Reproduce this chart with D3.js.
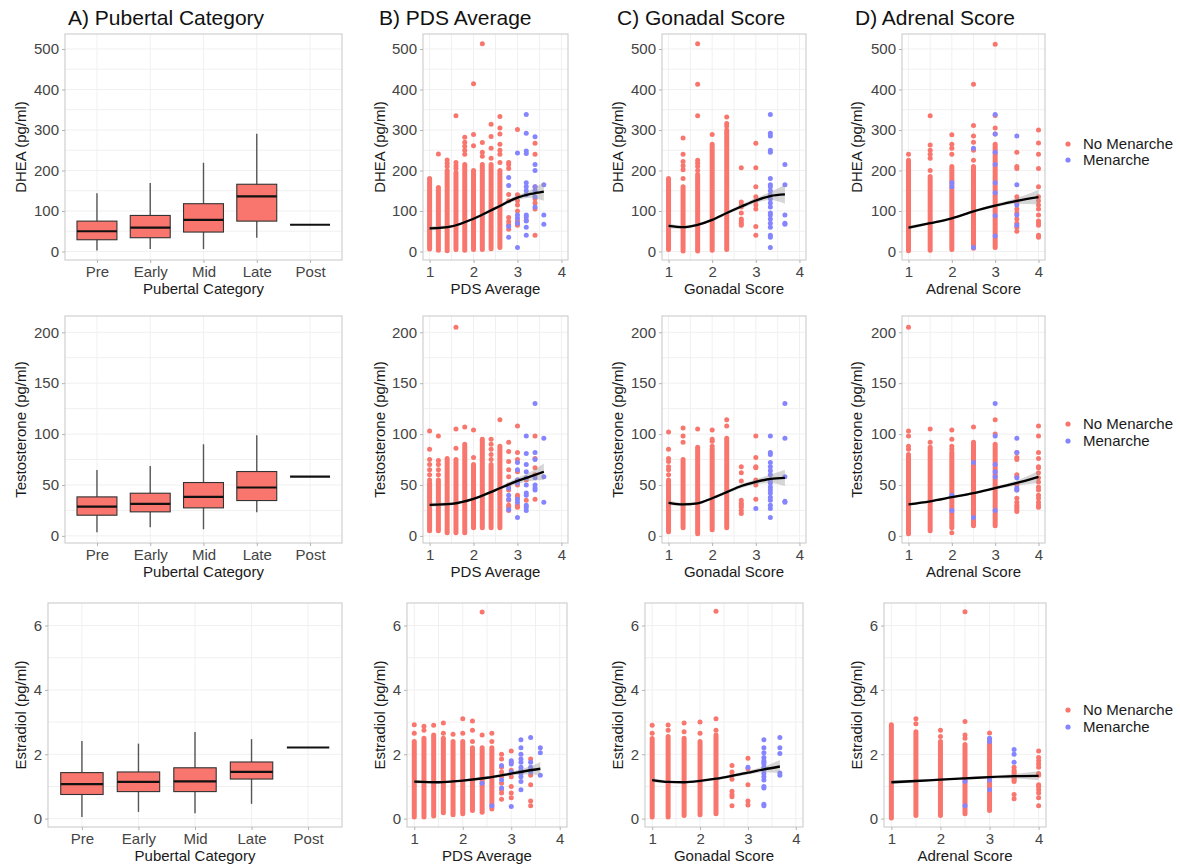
<!DOCTYPE html>
<html><head><meta charset="utf-8">
<script src="https://cdn.jsdelivr.net/npm/d3@7"></script>
<style>
body{margin:0;background:#fff}
svg{display:block}
text{font-family:"Liberation Sans",Arial,Helvetica,sans-serif}
</style>
</head><body>
<svg id="c" width="1180" height="868"></svg>
<script>
// ---------------- DATA ----------------
const categories = ["Pre","Early","Mid","Late","Post"];
const panelTitles = ["A) Pubertal Category","B) PDS Average","C) Gonadal Score","D) Adrenal Score"];
const xTitles = ["Pubertal Category","PDS Average","Gonadal Score","Adrenal Score"];
const yTitles = ["DHEA (pg/ml)","Testosterone (pg/ml)","Estradiol (pg/ml)"];
const legendLabels = ["No Menarche","Menarche"];
const scoreTicks = [1,2,3,4];
const yTicksDHEA = [0,100,200,300,400,500];
const yTicksTesto = [0,50,100,150,200];
const yTicksE2 = [0,2,4,6];

// box stats: [whiskerLow, q1, median, q3, whiskerHigh]
const boxDHEA  = [[2.5,29,50,75,144],[6,34,59,89,169],[6,48,78,118,219],[34,75,136,166,291],[66,66,66,66,66]];
const boxTesto = [[3.6,20.3,28.8,38.3,64.8],[8.5,23.6,31.4,41.9,68.7],[6.5,27.5,38.3,52.4,90],[23.2,34.7,47.5,63.2,98.9],[58.3,58.3,58.3,58.3,58.3]];
const boxE2    = [[0.05,0.75,1.07,1.43,2.41],[0.21,0.84,1.14,1.45,2.33],[0.17,0.84,1.16,1.58,2.69],[0.46,1.23,1.45,1.76,2.47],[2.21,2.21,2.21,2.21,2.21]];

// scatter columns: core = dense run of overlapping points [low, high]; red / blue = individual points
const pdsDHEA = [
 {x:1.0, core:[6,180], red:[], blue:[]},
 {x:1.2, core:[3,158], red:[241], blue:[]},
 {x:1.4, core:[2,200], red:[210,218,226], blue:[]},
 {x:1.6, core:[5,195], red:[205,212,220,335], blue:[]},
 {x:1.8, core:[3,215], red:[240,250,260,270,282], blue:[]},
 {x:2.0, core:[5,200], red:[261,289,414], blue:[]},
 {x:2.2, core:[5,215], red:[235,245,269,513], blue:[]},
 {x:2.4, core:[7,215], red:[230,255,284,314], blue:[]},
 {x:2.6, core:[10,200], red:[220,240,250,265,290,305,333], blue:[]},
 {x:2.8, core:null, red:[220,214,205,141,125,84,74,66,55], blue:[183,163,62,35]},
 {x:3.0, core:null, red:[301,140,125,115,100,75,70,65], blue:[243,90,82,70,10]},
 {x:3.2, core:null, red:[77], blue:[338,292,248,242,170,160,150,140,90,85,75,60,40]},
 {x:3.4, core:null, red:[267,240,160,130,120,105,40], blue:[283,215,200,160,150,135,110]},
 {x:3.6, core:null, red:[], blue:[165,90,67]}
];
const gonDHEA = [
 {x:1.0, core:[5,180], red:[], blue:[]},
 {x:1.333, core:[1,160], red:[180,202,212,222,240,280], blue:[]},
 {x:1.667, core:[1,190], red:[200,210,218,225,335,413,513], blue:[]},
 {x:2.0, core:[3,265], red:[289], blue:[]},
 {x:2.333, core:[5,300], red:[310,316,332], blue:[]},
 {x:2.667, core:null, red:[207,122,115,110,95,80,75,70,65], blue:[]},
 {x:3.0, core:null, red:[267,207,160,135,125,115,105,62,40], blue:[]},
 {x:3.333, core:null, red:[], blue:[338,292,285,250,245,180,165,160,150,140,130,120,110,95,90,80,70,60,40,35,10]},
 {x:3.667, core:null, red:[], blue:[215,165,90,70,67]}
];
const adrDHEA = [
 {x:1.0, core:[2,225], red:[240], blue:[]},
 {x:1.5, core:[3,185], red:[200,230,240,250,263,335], blue:[]},
 {x:2.0, core:[5,210], red:[240,255,265,288], blue:[160,170]},
 {x:2.5, core:[8,210], red:[225,250,270,285,311,413], blue:[10,255]},
 {x:3.0, core:[10,265], red:[290,305,336,512], blue:[338,290,245,215,170,145,88,38]},
 {x:3.5, core:null, red:[245,210,205,135,125,120,105,95,80,70,60,50], blue:[285,165,115,90,65]},
 {x:4.0, core:null, red:[300,268,240,205,160,135,125,115,105,90,75,70,65,40,35], blue:[]}
];
const pdsTesto = [
 {x:1.0, core:[5,52], red:[55,60,65,70,75,85,103], blue:[]},
 {x:1.2, core:[5,55], red:[60,65,70,74,98], blue:[]},
 {x:1.4, core:[3,76], red:[], blue:[]},
 {x:1.6, core:[3,75], red:[86,105,205], blue:[]},
 {x:1.8, core:[3,90], red:[107], blue:[]},
 {x:2.0, core:[8,70], red:[77,104], blue:[]},
 {x:2.2, core:[8,95], red:[], blue:[]},
 {x:2.4, core:[8,70], red:[75,80,85,90,95], blue:[]},
 {x:2.6, core:[8,88], red:[114], blue:[]},
 {x:2.8, core:null, red:[92,83,73,65,58,50,45,35,30,28,25], blue:[47,40,36,26]},
 {x:3.0, core:null, red:[108,82,75,63,55,50,40,38,30,28], blue:[72,65,55,52,36,33,18]},
 {x:3.2, core:null, red:[55,35], blue:[98,81,70,63,57,50,42,40,30,28,25]},
 {x:3.4, core:null, red:[98,76,67,60,36], blue:[130,82,75,57,50,47,45]},
 {x:3.6, core:null, red:[], blue:[96,58,33]}
];
const gonTesto = [
 {x:1.0, core:[4,55], red:[60,65,68,73,76,85,102], blue:[]},
 {x:1.333, core:[8,75], red:[92,98,106], blue:[]},
 {x:1.667, core:[2,87], red:[105], blue:[]},
 {x:2.0, core:[6,85], red:[88,93,95,104], blue:[]},
 {x:2.333, core:[8,96], red:[108,114], blue:[]},
 {x:2.667, core:null, red:[68,62,54,35,32,30,28,25,22], blue:[]},
 {x:3.0, core:null, red:[98,77,68,67,55,50,36], blue:[27]},
 {x:3.333, core:null, red:[], blue:[98,82,80,72,68,64,60,55,52,48,45,42,38,35,30,27,18]},
 {x:3.667, core:null, red:[], blue:[130,96,58,34,33]}
];
const adrTesto = [
 {x:1.0, core:[2,78], red:[80,85,88,98,103,205], blue:[]},
 {x:1.5, core:[5,87], red:[92,105], blue:[]},
 {x:2.0, core:[8,82], red:[3,85,88,95,104], blue:[40,25]},
 {x:2.5, core:[10,92], red:[107], blue:[72,18]},
 {x:3.0, core:[10,90], red:[100,114], blue:[130,98,70,63,58,25]},
 {x:3.5, core:null, red:[82,77,75,60,58,50,45,37,33,30,28,26,24], blue:[96,82,57,47,45]},
 {x:4.0, core:null, red:[108,98,82,76,68,67,62,57,53,48,45,40,37,33,30,28], blue:[]}
];
const pdsE2 = [
 {x:1.0, core:[0.05,2.4], red:[2.65,2.92], blue:[]},
 {x:1.2, core:[0.05,2.5], red:[2.75,2.87], blue:[]},
 {x:1.4, core:[0.08,2.6], red:[2.9], blue:[]},
 {x:1.6, core:[0.18,2.5], red:[2.65,2.97], blue:[]},
 {x:1.8, core:[0.12,2.4], red:[2.62], blue:[]},
 {x:2.0, core:[0.15,2.4], red:[2.65,3.1], blue:[]},
 {x:2.2, core:[0.25,2.2], red:[2.4,2.75,3.03], blue:[]},
 {x:2.4, core:[0.2,2.2], red:[2.6,6.42], blue:[1.1]},
 {x:2.6, core:[0.3,2.2], red:[2.4,2.65], blue:[0.4]},
 {x:2.8, core:null, red:[2.0,1.85,1.6,1.45,1.3,1.1,0.9,0.8,0.6], blue:[1.65,1.2,0.95]},
 {x:3.0, core:null, red:[2.1,1.75,1.5,1.3,1.0,0.8,0.65], blue:[1.8,1.7,1.45,0.38]},
 {x:3.2, core:null, red:[1.45], blue:[2.45,2.2,2.0,1.85,1.75,1.6,1.5,1.4,1.3,1.15,0.9]},
 {x:3.4, core:null, red:[1.85,1.5,1.35,1.05,0.55,0.4], blue:[2.52,1.75,1.6,1.45]},
 {x:3.6, core:null, red:[], blue:[2.2,2.05,1.35]}
];
const gonE2 = [
 {x:1.0, core:[0.05,2.49], red:[2.65,2.9], blue:[]},
 {x:1.333, core:[0.05,2.55], red:[2.75,2.91], blue:[]},
 {x:1.667, core:[0.1,2.5], red:[2.7,2.97], blue:[]},
 {x:2.0, core:[0.12,2.4], red:[2.65,3.0], blue:[]},
 {x:2.333, core:[0.15,2.6], red:[2.75,3.1,6.44], blue:[]},
 {x:2.667, core:null, red:[1.65,1.45,1.35,1.22,0.85,0.75,0.68,0.4], blue:[]},
 {x:3.0, core:null, red:[1.88,1.55,1.05,0.55,0.42], blue:[1.6]},
 {x:3.333, core:null, red:[], blue:[2.45,2.2,2.05,1.9,1.8,1.75,1.7,1.6,1.55,1.5,1.4,1.3,1.2,1.0,0.95,0.45,0.4]},
 {x:3.667, core:null, red:[], blue:[2.52,2.2,2.02,1.42,1.35]}
];
const adrE2 = [
 {x:1.0, core:[0.02,2.92], red:[], blue:[]},
 {x:1.5, core:[0.1,2.7], red:[2.95,3.1], blue:[]},
 {x:2.0, core:[0.1,2.4], red:[2.55,2.75], blue:[]},
 {x:2.5, core:[0.15,2.3], red:[2.5,2.6,3.02,6.43], blue:[1.15,0.4]},
 {x:3.0, core:[0.25,2.45], red:[2.66], blue:[2.5,2.4,1.2,0.9]},
 {x:3.5, core:null, red:[1.6,1.5,1.45,1.4,1.3,1.25,1.2,1.15,0.75,0.62], blue:[2.15,2.0,1.75]},
 {x:4.0, core:null, red:[2.1,1.9,1.8,1.7,1.6,1.4,1.35,1.05,1.0,0.9,0.8,0.65,0.4], blue:[]}
];

// smooth fits: [x, fit, lower CI, upper CI]
const pdsCurveDHEA = [[1.0,57,52,63],[1.5,62,59,65],[2.0,81,78,84],[2.5,107,103,111],[3.0,133,127,139],[3.3,142,133,152],[3.6,148,125,171]];
const gonCurveDHEA = [[1.0,63,57,69],[1.333,60,56,64],[1.667,66,63,69],[2.0,78,75,81],[2.333,95,91,99],[2.667,111,106,116],[3.0,126,120,132],[3.333,137,127,147],[3.667,141,118,165]];
const adrCurveDHEA = [[1.0,59,54,64],[1.5,70,67,73],[2.0,82,80,84],[2.5,99,96,102],[3.0,113,109,117],[3.5,125,118,132],[4.0,134,116,152]];
const pdsCurveTesto = [[1.0,30.4,28.5,32.5],[1.5,31.4,30,33],[2.0,36.3,35.2,37.4],[2.5,45,43.5,46.5],[3.0,54,51,57],[3.3,58.5,54,63],[3.6,63,55,71]];
const gonCurveTesto = [[1.0,32.5,30,35],[1.333,31,29.5,32.5],[1.667,32,30.8,33.2],[2.0,37,35.8,38.2],[2.333,43,41.5,44.5],[2.667,49,47,51],[3.0,53,50.5,55.5],[3.333,56,52,60],[3.667,57,49,65]];
const adrCurveTesto = [[1.0,31,29.5,32.5],[1.5,34,33,35],[2.0,38,37,39],[2.5,42,41,43],[3.0,47,45.5,48.5],[3.5,52,49.5,54.5],[4.0,58,52,64]];
const pdsCurveE2 = [[1.0,1.15,1.09,1.21],[1.5,1.13,1.09,1.17],[2.0,1.18,1.15,1.21],[2.5,1.27,1.23,1.31],[3.0,1.4,1.34,1.46],[3.3,1.48,1.38,1.58],[3.6,1.55,1.35,1.75]];
const gonCurveE2 = [[1.0,1.2,1.13,1.27],[1.333,1.14,1.1,1.18],[1.667,1.13,1.1,1.16],[2.0,1.17,1.14,1.2],[2.333,1.24,1.2,1.28],[2.667,1.33,1.28,1.38],[3.0,1.43,1.37,1.49],[3.333,1.53,1.44,1.62],[3.667,1.62,1.42,1.82]];
const adrCurveE2 = [[1.0,1.13,1.07,1.19],[1.5,1.17,1.13,1.21],[2.0,1.21,1.18,1.24],[2.5,1.25,1.22,1.28],[3.0,1.29,1.25,1.33],[3.5,1.32,1.25,1.39],[4.0,1.33,1.19,1.47]];

// ---------------- LAYOUT / STYLE ----------------
const RED = "#F8766D", BLUE = "#8585FF";
const svg = d3.select("#c");
const rows = [
  {top:34, bottom:260, dom:[-21,537], ticks:yTicksDHEA, minor:[50,150,250,350,450],
   cols:[[65,342],[423,568],[662,806],[902,1045]], legendY:[144,160]},
  {top:316, bottom:543, dom:[-7,216], ticks:yTicksTesto, minor:[25,75,125,175],
   cols:[[65,342],[423,568],[662,806],[902,1045]], legendY:[424,441]},
  {top:603, bottom:827, dom:[-0.26,6.70], ticks:yTicksE2, minor:[1,3,5],
   cols:[[48,342],[407,567],[645,803],[884,1046]], legendY:[710,727]}
];
const yLabelX = [21,380,618,857];
const titleX = [68,379,617,855];

function styleAxis(a){
  a.select(".domain").remove();
  a.selectAll(".tick line").attr("stroke","#b3b3b3").attr("stroke-width",1);
  a.selectAll(".tick text").attr("fill","#444").attr("font-size",15)
    .attr("font-family",'"Liberation Sans",Arial,sans-serif');
}

function frame(g, x0, x1, top, bottom){
  g.append("rect").attr("x",x0).attr("y",top).attr("width",x1-x0).attr("height",bottom-top)
   .attr("fill","none").attr("stroke","#d0d0d0").attr("stroke-width",1.2);
}

function yAxisAndTitle(g, row, y, x0, ci){
  g.append("g").attr("transform",`translate(${x0},0)`)
   .call(d3.axisLeft(y).tickValues(row.ticks).tickFormat(d3.format("~g")).tickSize(3).tickPadding(3)).call(styleAxis);
  g.append("text").attr("transform",`translate(${yLabelX[ci]},${(row.top+row.bottom)/2}) rotate(-90)`)
   .attr("text-anchor","middle").attr("dy","0.35em").attr("font-size",15).attr("fill","#1a1a1a")
   .text(yTitles[rows.indexOf(row)]);
}

function hGrid(g, y, row, x0, x1){
  g.append("g").selectAll("line").data(row.minor.concat(row.ticks)).join("line")
   .attr("x1",x0).attr("x2",x1).attr("y1",d=>y(d)).attr("y2",d=>y(d))
   .attr("stroke","#f0f0f0").attr("stroke-width",1);
}

function boxPanel(ri, boxes){
  const row = rows[ri], [x0,x1] = row.cols[0];
  const g = svg.append("g");
  const x = d3.scalePoint().domain(categories).range([x0,x1]).padding(0.6);
  const y = d3.scaleLinear().domain(row.dom).range([row.bottom,row.top]);
  hGrid(g, y, row, x0, x1);
  g.append("g").selectAll("line").data(categories).join("line")
   .attr("x1",d=>x(d)).attr("x2",d=>x(d)).attr("y1",row.top).attr("y2",row.bottom)
   .attr("stroke","#f0f0f0").attr("stroke-width",1);
  const bw = x.step()*0.75;
  const data = categories.map((c,i)=>({c, s:boxes[i]}));
  const bg = g.append("g").selectAll("g").data(data).join("g");
  bg.append("line").attr("x1",d=>x(d.c)).attr("x2",d=>x(d.c))
    .attr("y1",d=>y(d.s[0])).attr("y2",d=>y(d.s[4])).attr("stroke","#555").attr("stroke-width",1.4);
  bg.filter(d=>d.s[3]>d.s[1]).append("rect").attr("x",d=>x(d.c)-bw/2).attr("width",bw)
    .attr("y",d=>y(d.s[3])).attr("height",d=>y(d.s[1])-y(d.s[3]))
    .attr("fill",RED).attr("stroke","#333").attr("stroke-width",1.1);
  bg.append("line").attr("x1",d=>x(d.c)-bw/2).attr("x2",d=>x(d.c)+bw/2)
    .attr("y1",d=>y(d.s[2])).attr("y2",d=>y(d.s[2])).attr("stroke","#111").attr("stroke-width",2.2);
  frame(g, x0, x1, row.top, row.bottom);
  g.append("g").attr("transform",`translate(0,${row.bottom})`)
   .call(d3.axisBottom(x).tickSize(3).tickPadding(3)).call(styleAxis);
  g.append("text").attr("x",(x0+x1)/2).attr("y",row.bottom+33.5).attr("text-anchor","middle")
   .attr("font-size",15).attr("fill","#1a1a1a").text(xTitles[0]);
  yAxisAndTitle(g, row, y, x0, 0);
}

function scatterPanel(ri, ci, cols, curve){
  const row = rows[ri], [x0,x1] = row.cols[ci];
  const g = svg.append("g");
  const x = d3.scaleLinear().domain([0.85,4.15]).range([x0,x1]);
  const y = d3.scaleLinear().domain(row.dom).range([row.bottom,row.top]);
  hGrid(g, y, row, x0, x1);
  g.append("g").selectAll("line").data([1,1.5,2,2.5,3,3.5,4]).join("line")
   .attr("x1",d=>x(d)).attr("x2",d=>x(d)).attr("y1",row.top).attr("y2",row.bottom)
   .attr("stroke","#f0f0f0").attr("stroke-width",1);
  g.append("g").selectAll("line").data(cols.filter(c=>c.core)).join("line")
   .attr("x1",c=>x(c.x)).attr("x2",c=>x(c.x)).attr("y1",c=>y(c.core[0])).attr("y2",c=>y(c.core[1]))
   .attr("stroke",RED).attr("stroke-width",5).attr("stroke-linecap","round");
  const reds = cols.flatMap(c=>c.red.map(v=>({x:c.x,v})));
  const blues = cols.flatMap(c=>c.blue.map(v=>({x:c.x,v})));
  g.append("g").selectAll("circle").data(reds).join("circle")
   .attr("cx",d=>x(d.x)).attr("cy",d=>y(d.v)).attr("r",2.5).attr("fill",RED);
  g.append("g").selectAll("circle").data(blues).join("circle")
   .attr("cx",d=>x(d.x)).attr("cy",d=>y(d.v)).attr("r",2.5).attr("fill",BLUE);
  g.append("path").datum(curve)
   .attr("d",d3.area().x(d=>x(d[0])).y0(d=>y(d[2])).y1(d=>y(d[3])).curve(d3.curveMonotoneX))
   .attr("fill","#999").attr("fill-opacity",0.4);
  g.append("path").datum(curve)
   .attr("d",d3.line().x(d=>x(d[0])).y(d=>y(d[1])).curve(d3.curveMonotoneX))
   .attr("fill","none").attr("stroke","#000").attr("stroke-width",2.3);
  frame(g, x0, x1, row.top, row.bottom);
  g.append("g").attr("transform",`translate(0,${row.bottom})`)
   .call(d3.axisBottom(x).tickValues(scoreTicks).tickFormat(d3.format("d")).tickSize(3).tickPadding(3)).call(styleAxis);
  g.append("text").attr("x",(x0+x1)/2).attr("y",row.bottom+33.5).attr("text-anchor","middle")
   .attr("font-size",15).attr("fill","#1a1a1a").text(xTitles[ci]);
  yAxisAndTitle(g, row, y, x0, ci);
}

function legend(ri){
  const row = rows[ri];
  const lg = svg.append("g").selectAll("g").data(legendLabels).join("g")
    .attr("transform",(d,i)=>`translate(1068,${row.legendY[i]})`);
  lg.append("circle").attr("r",2.6).attr("fill",(d,i)=>i===0?RED:BLUE);
  lg.append("text").attr("x",15).attr("dy","0.35em").attr("font-size",15).attr("fill","#1a1a1a").text(d=>d);
}

// titles
svg.append("g").selectAll("text").data(panelTitles).join("text")
  .attr("x",(d,i)=>titleX[i]).attr("y",25).attr("font-size",21).attr("fill","#111").text(d=>d);

boxPanel(0, boxDHEA);
boxPanel(1, boxTesto);
boxPanel(2, boxE2);
scatterPanel(0,1,pdsDHEA,pdsCurveDHEA);
scatterPanel(0,2,gonDHEA,gonCurveDHEA);
scatterPanel(0,3,adrDHEA,adrCurveDHEA);
scatterPanel(1,1,pdsTesto,pdsCurveTesto);
scatterPanel(1,2,gonTesto,gonCurveTesto);
scatterPanel(1,3,adrTesto,adrCurveTesto);
scatterPanel(2,1,pdsE2,pdsCurveE2);
scatterPanel(2,2,gonE2,gonCurveE2);
scatterPanel(2,3,adrE2,adrCurveE2);
legend(0); legend(1); legend(2);
</script>
</body></html>
